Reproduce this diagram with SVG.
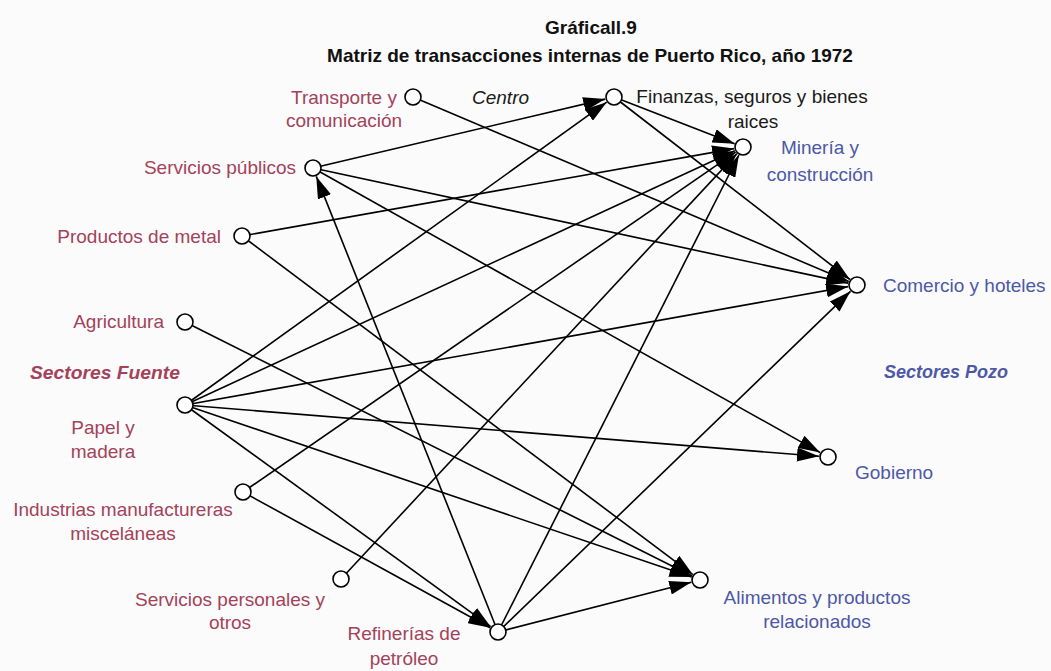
<svg xmlns="http://www.w3.org/2000/svg" width="1051" height="671" viewBox="0 0 1051 671">
  <defs>
    <marker id="arrow" markerUnits="userSpaceOnUse" markerWidth="23" markerHeight="14" refX="22" refY="7" orient="auto">
      <path d="M0,0 L22,7 L0,14 z" fill="#000"/>
    </marker>
    <style>
      .bg { fill: #fbfbfb; }
      .title { font-family: "Liberation Sans", Arial, sans-serif; font-size: 19px; font-weight: bold; fill: #111; text-anchor: middle; }
      .lbl { font-family: "Liberation Sans", Arial, sans-serif; font-size: 19px; }
      .src { fill: #a3425a; }
      .snk { fill: #4d58a6; }
      .ctr { fill: #1a1a1a; }
      .grp { font-family: "Liberation Sans", Arial, sans-serif; font-size: 18px; font-style: italic; font-weight: bold; }
      .node { fill: #fff; stroke: #000; stroke-width: 1.6; }
      .edge { stroke: #000; stroke-width: 1.6; fill: none; marker-end: url(#arrow); }
      .mid { text-anchor: middle; }
      .end { text-anchor: end; }
    </style>
  </defs>

  <rect class="bg" x="0" y="0" width="1051" height="671"/>

  <!-- title -->
  <g id="title">
    <text class="title" x="591" y="34">Gráficall.9</text>
    <text class="title" x="590" y="62">Matriz de transacciones internas de Puerto Rico, año 1972</text>
  </g>

  <!-- group captions -->
  <text class="grp src" x="30" y="379" fill="#8e2d45" textLength="150" lengthAdjust="spacingAndGlyphs">Sectores Fuente</text>
  <text class="grp snk" x="884" y="378">Sectores Pozo</text>
  <text class="lbl ctr" x="472" y="104" font-style="italic" font-size="21">Centro</text>

  <!-- connectors -->
  <g id="connectors">
    <line class="edge" x1="313" y1="168" x2="605.2" y2="99.1"/>
    <line class="edge" x1="185" y1="405" x2="606.7" y2="102.2"/>
    <line class="edge" x1="185" y1="405" x2="734.8" y2="150.8"/>
    <line class="edge" x1="185" y1="405" x2="848.1" y2="286.6"/>
    <line class="edge" x1="185" y1="405" x2="819.0" y2="456.3"/>
    <line class="edge" x1="185" y1="405" x2="691.5" y2="577.1"/>
    <line class="edge" x1="185" y1="405" x2="490.7" y2="626.7"/>
    <line class="edge" x1="243" y1="492" x2="735.6" y2="152.1"/>
    <line class="edge" x1="243" y1="492" x2="490.1" y2="627.7"/>
    <line class="edge" x1="341" y1="579" x2="736.9" y2="153.6"/>
    <line class="edge" x1="498" y1="632" x2="316.3" y2="176.4"/>
    <line class="edge" x1="498" y1="632" x2="738.9" y2="155.0"/>
    <line class="edge" x1="498" y1="632" x2="850.5" y2="291.3"/>
    <line class="edge" x1="498" y1="632" x2="691.3" y2="582.2"/>
    <line class="edge" x1="242" y1="236" x2="734.1" y2="148.6"/>
    <line class="edge" x1="242" y1="236" x2="692.8" y2="574.6"/>
    <line class="edge" x1="185" y1="322" x2="692.0" y2="576.0"/>
    <line class="edge" x1="313" y1="168" x2="848.2" y2="283.1"/>
    <line class="edge" x1="313" y1="168" x2="820.2" y2="452.6"/>
    <line class="edge" x1="413" y1="97" x2="848.7" y2="281.5"/>
    <line class="edge" x1="614" y1="97" x2="734.6" y2="143.8"/>
    <line class="edge" x1="614" y1="97" x2="849.9" y2="279.5"/>
  </g>

  <!-- source sectors -->
  <g id="transporte">
    <circle class="node" cx="413" cy="97" r="8"/>
    <text class="lbl src mid" x="344" y="104">Transporte y</text>
    <text class="lbl src mid" x="344" y="127">comunicación</text>
  </g>
  <g id="servicios-publicos">
    <circle class="node" cx="313" cy="168" r="8"/>
    <text class="lbl src end" x="296" y="174">Servicios públicos</text>
  </g>
  <g id="productos-metal">
    <circle class="node" cx="242" cy="236" r="8"/>
    <text class="lbl src end" x="221" y="243">Productos de metal</text>
  </g>
  <g id="agricultura">
    <circle class="node" cx="185" cy="322" r="8"/>
    <text class="lbl src end" x="164" y="328">Agricultura</text>
  </g>
  <g id="papel-madera">
    <circle class="node" cx="185" cy="405" r="8"/>
    <text class="lbl src mid" x="103" y="434">Papel y</text>
    <text class="lbl src mid" x="103" y="458">madera</text>
  </g>
  <g id="industrias">
    <circle class="node" cx="243" cy="492" r="8"/>
    <text class="lbl src mid" x="123" y="516">Industrias manufactureras</text>
    <text class="lbl src mid" x="123" y="540">misceláneas</text>
  </g>
  <g id="servicios-personales">
    <circle class="node" cx="341" cy="579" r="8"/>
    <text class="lbl src mid" x="230" y="606">Servicios personales y</text>
    <text class="lbl src mid" x="230" y="629">otros</text>
  </g>
  <g id="refinerias">
    <circle class="node" cx="498" cy="632" r="8"/>
    <text class="lbl src mid" x="404" y="640">Refinerías de</text>
    <text class="lbl src mid" x="404" y="665">petróleo</text>
  </g>

  <!-- sink sectors -->
  <g id="finanzas">
    <circle class="node" cx="614" cy="97" r="8"/>
    <text class="lbl ctr mid" x="752" y="103">Finanzas, seguros y bienes</text>
    <text class="lbl ctr mid" x="753" y="128">raices</text>
  </g>
  <g id="mineria">
    <circle class="node" cx="743" cy="147" r="8"/>
    <text class="lbl snk mid" x="820" y="154">Minería y</text>
    <text class="lbl snk mid" x="820" y="181">construcción</text>
  </g>
  <g id="comercio">
    <circle class="node" cx="857" cy="285" r="8"/>
    <text class="lbl snk" x="883" y="292">Comercio y hoteles</text>
  </g>
  <g id="gobierno">
    <circle class="node" cx="828" cy="457" r="8"/>
    <text class="lbl snk" x="855" y="479">Gobierno</text>
  </g>
  <g id="alimentos">
    <circle class="node" cx="700" cy="580" r="8"/>
    <text class="lbl snk mid" x="817" y="604">Alimentos y productos</text>
    <text class="lbl snk mid" x="817" y="628">relacionados</text>
  </g>
</svg>
